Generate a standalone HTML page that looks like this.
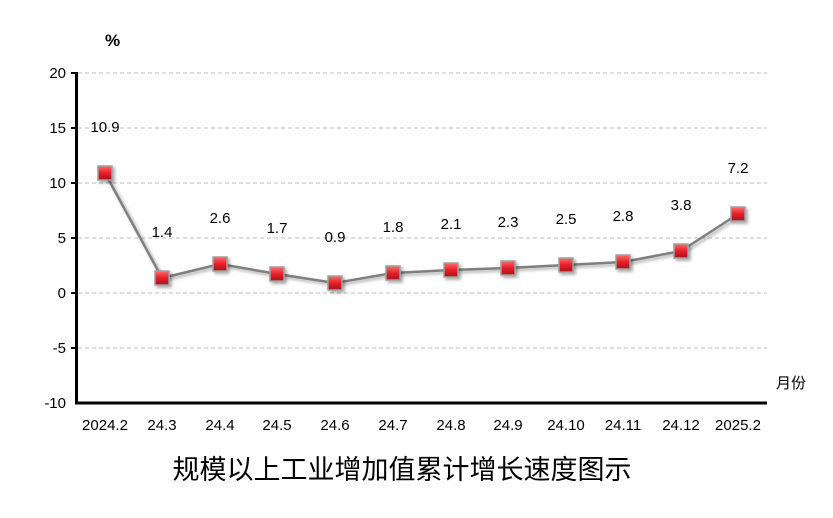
<!DOCTYPE html>
<html><head><meta charset="utf-8"><style>
html,body{margin:0;padding:0;background:#fff;width:833px;height:518px;overflow:hidden}
text{font-family:"Liberation Sans","Noto Sans CJK SC",sans-serif;fill:#000}
</style></head><body>
<svg width="833" height="518" viewBox="0 0 833 518" xmlns="http://www.w3.org/2000/svg">
<defs>
<linearGradient id="g" x1="0" y1="0" x2="0" y2="1">
<stop offset="0" stop-color="#ff6a6a"/><stop offset="0.5" stop-color="#e8202a"/><stop offset="1" stop-color="#a81018"/>
</linearGradient>
<filter id="s" x="-50%" y="-50%" width="200%" height="200%"><feDropShadow dx="2" dy="2" stdDeviation="1.5" flood-color="#000" flood-opacity="0.35"/></filter>
</defs>
<g stroke="#bdbdbd" stroke-dasharray="4,3" stroke-width="1">
<line x1="78" y1="73" x2="767" y2="73"/><line x1="78" y1="128" x2="767" y2="128"/>
<line x1="78" y1="183" x2="767" y2="183"/><line x1="78" y1="238" x2="767" y2="238"/>
<line x1="78" y1="293" x2="767" y2="293"/><line x1="78" y1="348" x2="767" y2="348"/>
</g>
<g stroke="#000" stroke-width="3">
<line x1="76.5" y1="72" x2="76.5" y2="404"/><line x1="75" y1="403" x2="767" y2="403"/>
</g>
<g stroke="#000" stroke-width="2">
<line x1="71" y1="73" x2="76" y2="73"/><line x1="71" y1="128" x2="76" y2="128"/><line x1="71" y1="183" x2="76" y2="183"/>
<line x1="71" y1="238" x2="76" y2="238"/><line x1="71" y1="293" x2="76" y2="293"/><line x1="71" y1="348" x2="76" y2="348"/>
</g>
<g font-size="15" text-anchor="end">
<text x="66" y="78">20</text><text x="66" y="133">15</text><text x="66" y="188">10</text>
<text x="66" y="243">5</text><text x="66" y="298">0</text><text x="66" y="353">-5</text><text x="66" y="408">-10</text>
</g>
<text x="105" y="46" font-size="17" font-weight="bold">%</text>
<text x="776" y="388" font-size="15">月份</text>
<g font-size="15" text-anchor="middle">
<text x="105" y="430">2024.2</text><text x="162" y="430">24.3</text><text x="220" y="430">24.4</text>
<text x="277" y="430">24.5</text><text x="335" y="430">24.6</text><text x="393" y="430">24.7</text>
<text x="451" y="430">24.8</text><text x="508" y="430">24.9</text><text x="566" y="430">24.10</text>
<text x="623" y="430">24.11</text><text x="681" y="430">24.12</text><text x="738" y="430">2025.2</text>
</g>
<polyline fill="none" stroke="#7f7f7f" stroke-width="2.5" filter="url(#s)" points="105,173 162,278 220,264 277,274 335,283 393,273 451,270 508,268 566,265 623,262 681,251 738,214"/>
<g fill="url(#g)" stroke="#a0a0a0" stroke-width="1.5" filter="url(#s)">
<rect x="98" y="166" width="14" height="14"/><rect x="155" y="271" width="14" height="14"/>
<rect x="213" y="257" width="14" height="14"/><rect x="270" y="267" width="14" height="14"/>
<rect x="328" y="276" width="14" height="14"/><rect x="386" y="266" width="14" height="14"/>
<rect x="444" y="263" width="14" height="14"/><rect x="501" y="261" width="14" height="14"/>
<rect x="559" y="258" width="14" height="14"/><rect x="616" y="255" width="14" height="14"/>
<rect x="674" y="244" width="14" height="14"/><rect x="731" y="207" width="14" height="14"/>
</g>
<g font-size="15" text-anchor="middle">
<text x="105" y="132">10.9</text><text x="162" y="237">1.4</text><text x="220" y="223">2.6</text>
<text x="277" y="233">1.7</text><text x="335" y="242">0.9</text><text x="393" y="232">1.8</text>
<text x="451" y="229">2.1</text><text x="508" y="227">2.3</text><text x="566" y="224">2.5</text>
<text x="623" y="221">2.8</text><text x="681" y="210">3.8</text><text x="738" y="173">7.2</text>
</g>
<text x="402" y="479" font-size="27" text-anchor="middle">规模以上工业增加值累计增长速度图示</text>
</svg>
</body></html>
